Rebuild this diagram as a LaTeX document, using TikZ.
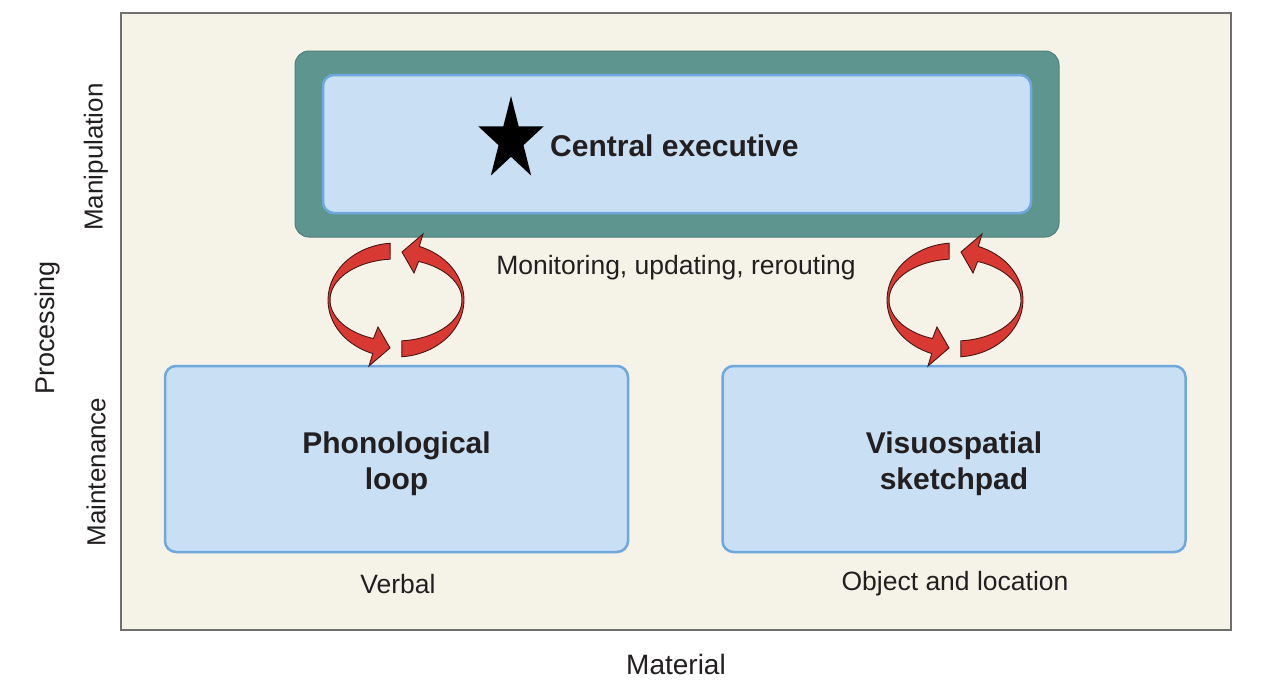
\documentclass[tikz,border=0pt]{standalone}
\usepackage{fontspec}
\setmainfont{Liberation Sans}
\definecolor{bgbeige}{HTML}{F5F2E7}
\definecolor{framegray}{HTML}{6F6F6F}
\definecolor{tealbox}{HTML}{5E958F}
\definecolor{lblue}{HTML}{C9DFF3}
\definecolor{bblue}{HTML}{6FA8DC}
\definecolor{txt}{HTML}{231F20}
\definecolor{arrred}{HTML}{D83A33}
\definecolor{arrdark}{HTML}{4A1512}
\tikzset{
  membox/.style={draw=bblue, line width=2.5pt, fill=lblue, rounded corners=11pt,
    minimum width=463pt, minimum height=186pt, inner sep=0pt},
  boxtext/.style={inner sep=0pt, font=\fontsize{30}{36}\selectfont\bfseries, text=txt, align=center},
  lab/.style={text=txt, font=\fontsize{26.5}{30}\selectfont, inner sep=0pt},
  axislab/.style={text=txt, font=\fontsize{26}{30}\selectfont, inner sep=0pt},
  ribbon/.style={fill=arrred, draw=arrdark, line width=0.9pt, line join=miter},
}
\newcommand\onearrow{%
  \filldraw[ribbon] (95:68 and 57) arc[start angle=95, end angle=250, x radius=68, y radius=57]
    -- (-27,-66) -- (-6,-48) -- (-18,-27)
    -- (250:66 and 41) arc[start angle=250, end angle=95, x radius=66, y radius=41] -- cycle;}
\newcommand\cyclepair[2]{%
  \begin{scope}[shift={(#1,#2)}, yscale=-1]
    \onearrow
    \begin{scope}[rotate=180]\onearrow\end{scope}
  \end{scope}}
\begin{document}
\begin{tikzpicture}[x=1pt,y=-1pt]
\useasboundingbox (0,0) rectangle (1272,694);
\fill[white] (0,0) rectangle (1272,694);
% frame
\node[draw=framegray, line width=2pt, fill=bgbeige, minimum width=1110pt, minimum height=617pt, inner sep=0pt] (frame) at (676,321.5) {};
% central executive
\node[fill=tealbox, draw=tealbox!85!black, line width=1pt, rounded corners=14pt, minimum width=764pt, minimum height=186pt, inner sep=0pt] (ceout) at (677,144) {};
\node[membox, minimum width=708pt, minimum height=138pt] (cein) at (677,144) {};
\begin{scope}[shift={(511,140)}, xscale=0.78, yscale=-1]
  \fill[black] (90:44) -- (126:16.8) -- (162:44) -- (198:16.8) -- (234:44) -- (270:16.8)
     -- (306:44) -- (342:16.8) -- (18:44) -- (54:16.8) -- cycle;
\end{scope}
\node[anchor=west, inner sep=0pt, text=txt, font=\fontsize{30}{33}\selectfont\bfseries] (cetext) at (550,146) {Central executive};
\node[lab] (mon) at (676,268) {Monitoring, updating, rerouting};
% subsystems
\node[membox] (phon) at (396.5,459) {};
\node[boxtext] (phontext) at ([yshift=-5pt]phon.center) {Phonological\\loop};
\node[membox] (visuo) at (954,459) {};
\node[boxtext] (visuotext) at ([yshift=-5pt]visuo.center) {Visuospatial\\sketchpad};
\node[lab] (verbal) at (398,584) {Verbal};
\node[lab] (objloc) at (955,584) {Object and location};
% cycle arrows
\cyclepair{396}{300}
\cyclepair{955}{300}
% axes labels
\node[text=txt, font=\fontsize{28}{32}\selectfont, inner sep=0pt] (material) at (676,664) {Material};
\node[text=txt, font=\fontsize{27}{32}\selectfont, inner sep=0pt, rotate=90] (processing) at (48,328) {Processing};
\node[axislab, rotate=90] (manip) at (96,157) {Manipulation};
\node[axislab, rotate=90] (maint) at (96,472) {Maintenance};
\end{tikzpicture}
\end{document}
